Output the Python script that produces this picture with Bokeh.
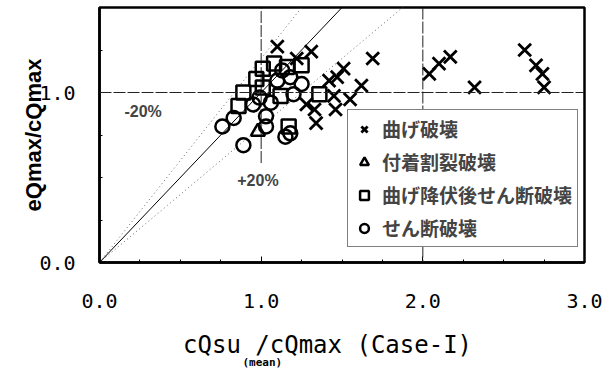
from bokeh.plotting import figure
from bokeh.models import Range1d, FixedTicker, Span, Label, Legend, LegendItem, Title
from bokeh.embed import file_html
from bokeh.resources import INLINE

# ---- data ----
flex_x = [1.10, 1.22, 1.31, 1.51, 1.69, 1.62, 1.42, 1.47, 1.45, 1.33, 1.28, 1.55, 1.34, 1.46,
          2.04, 2.10, 2.17, 2.32, 2.63, 2.70, 2.74, 2.75]
flex_y = [1.27, 1.20, 1.24, 1.14, 1.20, 1.04, 1.07, 1.09, 0.98, 0.90, 0.93, 0.96, 0.82, 0.90,
          1.11, 1.17, 1.21, 1.03, 1.25, 1.16, 1.11, 1.03]

bond_x = [0.98]
bond_y = [0.77]

flexshear_x = [1.01, 1.08, 1.16, 1.25, 1.01, 0.89, 0.86, 1.12, 1.36, 1.17, 0.97]
flexshear_y = [1.14, 1.17, 1.15, 1.16, 1.03, 1.00, 0.92, 0.98, 0.99, 0.80, 1.08]

shear_x = [0.76, 0.83, 0.89, 0.95, 1.03, 1.03, 1.10, 1.18, 1.20, 1.06, 1.15, 1.18, 1.13, 0.99, 1.25]
shear_y = [0.80, 0.85, 0.69, 0.93, 0.80, 0.86, 1.07, 1.09, 0.99, 0.94, 0.74, 0.76, 1.13, 0.97, 1.05]

legend_labels = ["曲げ破壊", "付着割裂破壊", "曲げ降伏後せん断破壊", "せん断破壊"]
x_ticks = [0, 1, 2, 3]
y_ticks = [0, 1]
minor_x = [0.25, 0.5, 0.75, 1.25, 1.5, 1.75, 2.25, 2.5, 2.75]
minor_y = [0.25, 0.5, 0.75, 1.25]
ref_x = [0, 3]
ratio_upper = 1.2
ratio_lower = 0.8
xtitle_main = ["cQsu", "/cQmax (Case-I)"]
xtitle_sub = "(mean)"

p = figure(width=609, height=379, x_range=Range1d(0, 3), y_range=Range1d(0, 1.5),
           output_backend="svg", toolbar_location=None,
           min_border_left=99, min_border_right=25, min_border_top=7, min_border_bottom=117)
p.background_fill_color = "white"
p.border_fill_color = "white"
p.outline_line_color = "black"
p.outline_line_width = 2.5
p.xgrid.grid_line_color = None
p.ygrid.grid_line_color = None

# axes
xa = p.xaxis[0]
xa.ticker = FixedTicker(ticks=x_ticks, minor_ticks=minor_x)
xa.major_label_overrides = {0: "0.0", 1: "1.0", 2: "2.0", 3: "3.0"}
ya = p.yaxis[0]
ya.ticker = FixedTicker(ticks=y_ticks, minor_ticks=minor_y)
ya.major_label_overrides = {0: "0.0", 1: "1.0"}
for ax in (xa, ya):
    ax.axis_line_width = 2.5
    ax.axis_line_color = "black"
    ax.major_tick_in = 6
    ax.major_tick_out = 0
    ax.minor_tick_in = 3
    ax.minor_tick_out = 0
    ax.major_tick_line_width = 1
    ax.major_label_text_font = "DejaVu Sans Mono"
    ax.major_label_text_font_size = "20px"
    ax.major_label_text_color = "black"
    ax.axis_label_text_color = "black"
    ax.axis_label_text_font_style = "normal"
xa.major_label_standoff = 31
ya.major_label_standoff = 24
ya.axis_label = "eQmax/cQmax"
ya.axis_label_text_font = "Liberation Sans"
ya.axis_label_text_font_style = "bold"
ya.axis_label_text_font_size = "22px"
ya.axis_label_standoff = -10

# x-axis title: main text (gap left for the subscript) + subscript below it
xa.axis_label = xtitle_main[0] + "   " + xtitle_main[1]
xa.axis_label_text_font = "DejaVu Sans Mono"
xa.axis_label_text_font_size = "24px"
xa.axis_label_standoff = 20
sub = Title(text=xtitle_sub, align="left", offset=143, standoff=-15,
            text_font="DejaVu Sans Mono", text_font_size="11px", text_font_style="bold",
            text_color="black")
p.add_layout(sub, "below")

# grid-like reference lines
p.add_layout(Span(location=1.0, dimension="width", line_color="#222222", line_width=1, line_dash="12 2"))
p.add_layout(Span(location=2.0, dimension="height", line_color="#222222", line_width=1, line_dash="12 2"))
p.segment(x0=[1.0], y0=[0.585], x1=[1.0], y1=[1.5], line_color="#222222", line_width=1, line_dash="12 2")

# 1:1 and ±20% lines
p.line(ref_x, [v for v in ref_x], line_color="black", line_width=1)
p.line(ref_x, [v * ratio_upper for v in ref_x], line_color="#666666", line_width=1, line_dash="1 3")
p.line(ref_x, [v * ratio_lower for v in ref_x], line_color="#666666", line_width=1, line_dash="1 3")

r1 = p.scatter(flex_x, flex_y, marker="x", size=18, line_color="black", line_width=2.8)
r2 = p.scatter(bond_x, bond_y, marker="triangle", size=14, line_color="black", line_width=2.5, fill_color=None)
r3 = p.scatter(flexshear_x, flexshear_y, marker="square", size=14, line_color="black", line_width=2.5, fill_color=None)
r4 = p.scatter(shear_x, shear_y, marker="circle", size=14, line_color="black", line_width=2.5, fill_color=None)

p.add_layout(Label(x=0.27, y=0.89, text="-20%", text_align="center", text_baseline="middle",
                   text_font="Liberation Sans", text_font_style="bold", text_font_size="16px"))
p.add_layout(Label(x=0.98, y=0.48, text="+20%", text_align="center", text_baseline="middle",
                   text_font="Liberation Sans", text_font_style="bold", text_font_size="16px"))

legend = Legend(items=[LegendItem(label=legend_labels[0], renderers=[r1]),
                       LegendItem(label=legend_labels[1], renderers=[r2]),
                       LegendItem(label=legend_labels[2], renderers=[r3]),
                       LegendItem(label=legend_labels[3], renderers=[r4])],
                location=(248, 15))
legend.label_text_font = "Noto Sans CJK JP"
legend.label_text_font_style = "bold"
legend.label_text_font_size = "19px"
legend.label_height = 24
legend.glyph_height = 24
legend.glyph_width = 22
legend.spacing = 6
legend.padding = 5
legend.margin = 0
legend.label_standoff = 7
legend.border_line_color = "black"
legend.border_line_width = 1
legend.background_fill_color = "white"
legend.background_fill_alpha = 1
p.add_layout(legend, "center")

open("out.html", "w").write(file_html(p, INLINE))
